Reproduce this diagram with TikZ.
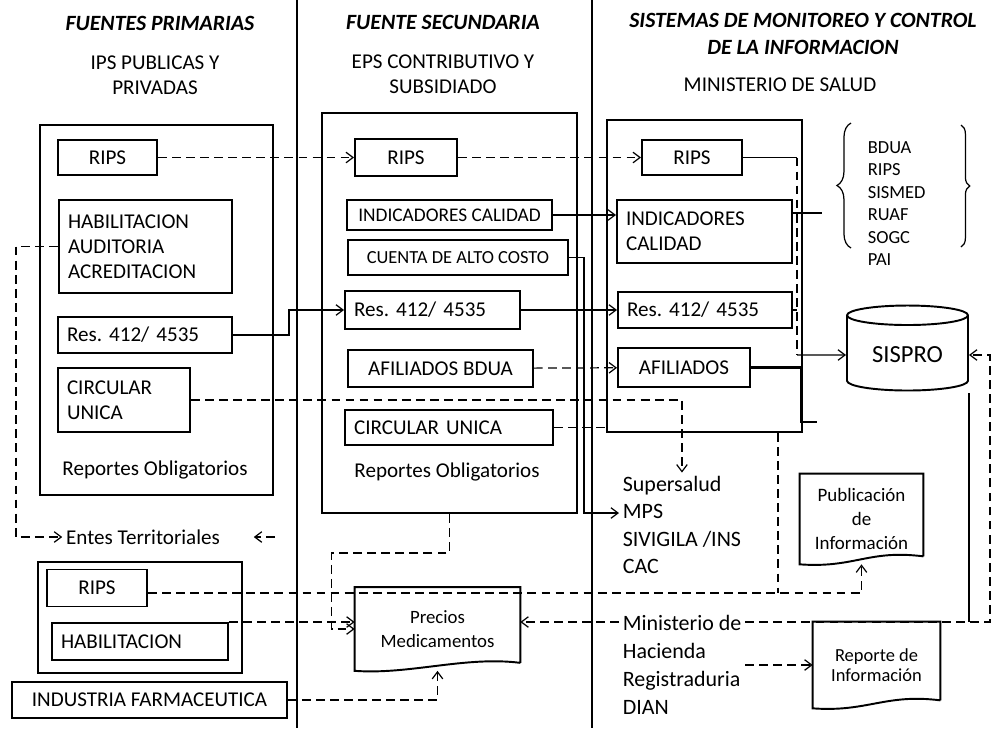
\documentclass[tikz,border=0pt]{standalone}
\usepackage{fontspec}
\setmainfont{Carlito}
\frenchspacing
\usetikzlibrary{shapes, arrows.meta, positioning, calc, decorations.pathreplacing}

\tikzset{
  box/.style={draw, line width=1.1pt, inner xsep=0.18cm, inner ysep=2pt, font=\fontsize{12}{14.2}\selectfont},
  lbox/.style={box, align=left},
  docn/.style={inner sep=0pt, align=center},
  txt/.style={inner sep=2pt, font=\fontsize{12}{14.2}\selectfont},
  title/.style={inner sep=2pt, align=center, font=\fontsize{12.4}{15.3}\selectfont\bfseries\itshape},
  sub/.style={txt, align=center},
  sepline/.style={line width=0.9pt},
  link/.style={line width=0.7pt},
  dlink/.style={link, dash pattern=on 5pt off 3pt},
  arrowto/.style={-{Straight Barb[length=4pt, width=6pt]}},
  brc/.style={line width=0.7pt, decorate, decoration={brace, amplitude=#1}},
}

% document shape with a wavy bottom
\newcommand{\docshape}[1]{%
  \draw[line width=1.1pt] ([yshift=0.16cm]#1.south east) -- (#1.north east) -- (#1.north west) -- (#1.south west)
    .. controls ([xshift=1.1cm, yshift=-0.08cm]#1.south west) and ([xshift=-1.1cm, yshift=0.3cm]#1.south east) .. ([yshift=0.16cm]#1.south east);}

\begin{document}
\begin{tikzpicture}[x=0.02cm, y=-0.02cm]
\useasboundingbox (0,0) rectangle (995,728);
\draw[sepline] (297,0) -- (297,728);
\draw[sepline] (592,0) -- (592,728);

% column heads
\node[title] (hL) at (160,23) {FUENTES PRIMARIAS};
\node[sub] (sL) at (155,75.5) {IPS PUBLICAS Y\\PRIVADAS};
\node[title] (hM) at (443,22) {FUENTE SECUNDARIA};
\node[sub] (sM) at (443,74) {EPS CONTRIBUTIVO Y\\SUBSIDIADO};
\node[title] (hR) at (803,33.5) {SISTEMAS DE MONITOREO Y CONTROL\\DE LA INFORMACION};
\node[sub] (sR) at (780,85) {MINISTERIO DE SALUD};

% fuentes primarias
\node[box, minimum width=4.66cm, minimum height=7.4cm] (boxL) at (156.5,310) {};
\node[box, minimum width=1.98cm, minimum height=0.7cm] (ripsL) at (107.5,157.5) {RIPS};
\node[lbox, text width=3.10cm, minimum height=1.86cm] (habL) at (145.5,246.5) {HABILITACION\\AUDITORIA\\ACREDITACION};
\node[lbox, text width=3.12cm, minimum height=0.72cm] (resL) at (145,335) {Res. 412/ 4535};
\node[lbox, text width=2.28cm, minimum height=1.28cm] (circL) at (124,400) {CIRCULAR\\UNICA};
\node[txt] (repL) at (155,470) {Reportes Obligatorios};

% fuente secundaria
\node[box, minimum width=5.1cm, minimum height=8cm] (boxM) at (449.5,313) {};
\node[box, minimum width=2.04cm, minimum height=0.74cm] (ripsM) at (406,157.5) {RIPS};
\node[box, minimum width=4.1cm, minimum height=0.6cm, font=\fontsize{11}{13}\selectfont] (indM) at (449.5,215) {INDICADORES CALIDAD};
\node[box, minimum width=4.4cm, minimum height=0.7cm, font=\fontsize{10.5}{12.5}\selectfont] (cuentaM) at (458,257.5) {CUENTA DE ALTO COSTO};
\node[lbox, text width=3.14cm, minimum height=0.76cm] (resM) at (432.5,310) {Res. 412/ 4535};
\node[box, minimum width=3.7cm, minimum height=0.74cm] (afiM) at (440.5,368.5) {AFILIADOS BDUA};
\node[lbox, text width=3.8cm, minimum height=0.7cm] (circM) at (449,427.5) {CIRCULAR UNICA};
\node[txt] (repM) at (447,472) {Reportes Obligatorios};

% ministerio de salud
\node[box, minimum width=3.9cm, minimum height=6.24cm] (boxR) at (704.5,276) {};
\node[box, minimum width=2cm, minimum height=0.7cm] (ripsR) at (692,157.5) {RIPS};
\node[lbox, text width=3.14cm, minimum height=1.26cm] (indR) at (704.5,231.5) {INDICADORES\\CALIDAD};
\node[lbox, text width=3.12cm, minimum height=0.72cm] (resR) at (705,310) {Res. 412/ 4535};
\node[box, minimum width=2.64cm, minimum height=0.78cm] (afiR) at (684,367.5) {AFILIADOS};

\node[align=left, anchor=west, inner sep=2pt, font=\fontsize{10.5}{12.8}\selectfont] (bases) at (864,203.5) {BDUA\\RIPS\\SISMED\\RUAF\\SOGC\\PAI};
\draw[brc=8pt] (851,248) -- (851,123);
\draw[brc=5pt] (961,125) -- (961,247);

\node[box, cylinder, shape border rotate=90, aspect=0.25, minimum width=2.42cm, minimum height=1.7cm, inner sep=2pt, font=\fontsize{14}{16}\selectfont] (sispro) at (907.5,355) {SISPRO};

\node[txt, align=left, anchor=west, font=\fontsize{12.5}{15.5}\selectfont] (ss) at (619,525) {Supersalud\\MPS\\SIVIGILA /INS\\CAC};
\node[txt, align=left, anchor=west, font=\fontsize{12.5}{15.9}\selectfont] (mh) at (619,664.5) {Ministerio de\\Hacienda\\Registraduria\\DIAN};

\node[docn, minimum width=2.46cm, minimum height=1.8cm, font=\fontsize{10.8}{13.5}\selectfont] (pub) at (861.5,519) {Publicación\\de\\Información};
\docshape{pub}
\node[docn, minimum width=2.54cm, minimum height=1.72cm, font=\fontsize{10.5}{11.5}\selectfont] (rep) at (876.5,665) {Reporte de\\Información};
\docshape{rep}

% entes territoriales
\node[txt] (entes) at (143,537) {Entes Territoriales};
\node[box, minimum width=4.08cm, minimum height=2.22cm] (boxE) at (140,617.5) {};
\node[box, minimum width=2cm, minimum height=0.74cm] (ripsE) at (97,588) {RIPS};
\node[lbox, text width=3.16cm, minimum height=0.74cm] (habE) at (140,641.5) {HABILITACION};
\node[box, minimum width=5.5cm, minimum height=0.72cm] (industria) at (149.5,700) {INDUSTRIA FARMACEUTICA};

\node[docn, minimum width=3.3cm, minimum height=1.66cm, font=\fontsize{10.7}{13.6}\selectfont] (precios) at (437.5,629) {Precios\\Medicamentos};
\docshape{precios}

% connectors
\coordinate (jn) at (797,355);
\coordinate (lst) at (822,213);
\coordinate (afiend) at (817,422);
\coordinate (k778) at (778,593);
\coordinate (rt) at (990,622);
\coordinate (et) at (275,537);
\coordinate (m1) at ([yshift=0.85cm]mh.west);

\draw[dlink, arrowto] (ripsL) -- (ripsM);
\draw[dlink, arrowto] (ripsM) -- (ripsR);
\draw[link] (ripsR.east) -- (ripsR.east -| jn);
\draw[dlink] (ripsR.east -| jn) -- (jn);
\draw[link, arrowto] (jn) -- (sispro);
\draw[link, arrowto] (indM.east) -- (indM.east -| indR.west);
\draw[link] (indR.east |- lst) -- (lst);
\draw[link, arrowto] (resL.east) -- ++(56,0) |- (resM.west);
\draw[link, arrowto] (resM) -- (resR);
\draw[dlink] (resR.east) -- (resR.east -| jn);
\draw[dlink, arrowto] (afiM) -- (afiR);
\draw[link, line width=1.4pt] (afiR.east) -- ++(50,0) |- (afiend);
\draw[dlink] (circM.east) -- (circM.east -| boxR.west);
\draw[dlink, arrowto] (circL.east) -| (ss.north);
\draw[link, arrowto] (cuentaM.east) -- ++(15,0) |- ([yshift=0.24cm]ss.west);
\draw[dlink, arrowto] (boxM.south) -- ++(0,39) -| ([xshift=-0.46cm]precios.west) -- (precios.west);
\draw[dlink] (boxR.south -| k778) -- (k778);

\draw[dlink, arrowto] (habL.west) -- ++(-42,0) |- (entes.west);
\draw[dlink, arrowto] (et) -- ([xshift=0.6cm]entes.east);
\draw[dlink, arrowto] ([yshift=-0.1cm]ripsE.east) -- ([yshift=-0.1cm]ripsE.east -| pub.south) -- (pub.south);
\draw[dlink, arrowto] (habE.north east) -- (habE.north east -| precios.west);
\draw[dlink, arrowto] (industria.east) -| (precios.south);
\draw[dlink, arrowto] (m1) -- (m1 -| precios.east);
\draw[dlink, arrowto] (mh.east |- rt) -- (rt) |- (sispro.east);
\draw[link] ([yshift=-0.76cm]sispro.east) -- (sispro.east |- rt);
\draw[dlink, arrowto] (mh.east |- rep.west) -- (rep.west);
\end{tikzpicture}
\end{document}
